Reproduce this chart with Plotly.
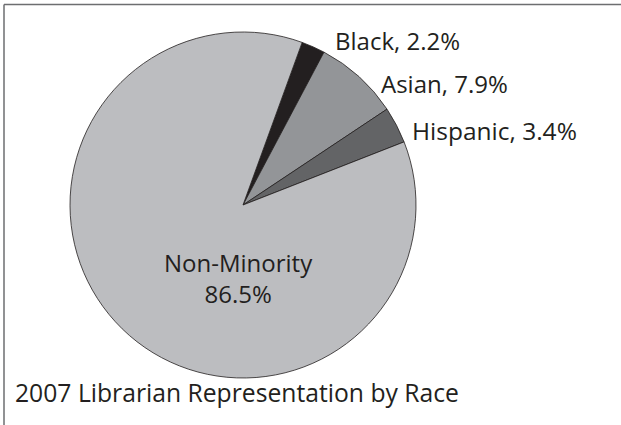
import plotly.graph_objects as go

W, H = 621, 425

categories = ["Black", "Asian", "Hispanic", "Non-Minority"]
percent = [2.2, 7.9, 3.4, 86.5]
colors = ["#231f20", "#939598", "#636466", "#bcbdc0"]
title_text = "2007 Librarian Representation by Race"

cx, cy, r = 243, 205, 173

fig = go.Figure(go.Pie(
    labels=categories,
    values=percent,
    sort=False,
    direction="clockwise",
    rotation=20,
    marker=dict(colors=colors, line=dict(color="#231f20", width=0.8)),
    textinfo="none",
    hoverinfo="label+percent",
    showlegend=False,
    domain=dict(x=[(cx - r) / W, (cx + r) / W], y=[(H - cy - r) / H, (H - cy + r) / H]),
))

FONT = "Open Sans"
TXT = "#231f20"

def px_ann(text, x, y, xanchor="left", align="left", size=24):
    fig.add_annotation(
        text=text, x=x / W, y=1 - y / H, xref="paper", yref="paper",
        xanchor=xanchor, yanchor="middle", showarrow=False, align=align,
        font=dict(family=FONT, size=size, color=TXT),
    )

px_ann(f"{categories[0]}, {percent[0]}%", 333, 41)
px_ann(f"{categories[1]}, {percent[1]}%", 379, 83)
px_ann(f"{categories[2]}, {percent[2]}%", 410, 130, size=24.5)
px_ann(f"{categories[3]}<br>{percent[3]}%", 238, 278, xanchor="center", align="center")
px_ann(title_text, 13, 392, size=24.7)

fig.add_shape(type="line", xref="paper", yref="paper", x0=4 / W, x1=1, y0=1 - 4.5 / H, y1=1 - 4.5 / H,
              line=dict(color="#6d6e70", width=1.5))
fig.add_shape(type="line", xref="paper", yref="paper", x0=4 / W, x1=4 / W, y0=0, y1=1 - 4.5 / H,
              line=dict(color="#6d6e70", width=1.5))

fig.update_layout(
    width=W, height=H,
    margin=dict(l=0, r=0, t=0, b=0),
    paper_bgcolor="white", plot_bgcolor="white",
)

fig.write_html("out.html")
